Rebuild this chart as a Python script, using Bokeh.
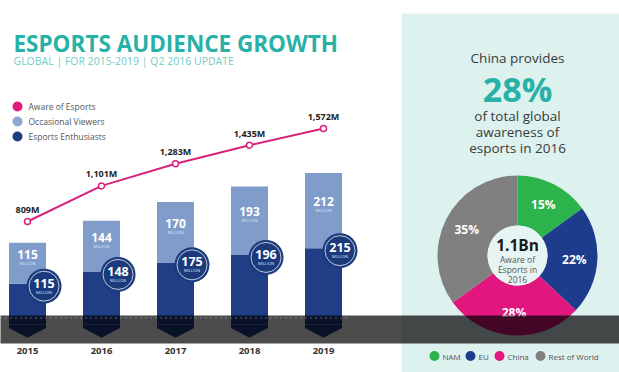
import math
from bokeh.plotting import figure
from bokeh.models import Range1d, Label, ColumnDataSource
from bokeh.core.properties import value
from bokeh.embed import file_html
from bokeh.resources import INLINE

# ---------------- data ----------------
years = [2015, 2016, 2017, 2018, 2019]
year_labels = ["2015", "2016", "2017", "2018", "2019"]
enthusiasts = [115, 148, 175, 196, 215]
occasional = [115, 144, 170, 193, 212]
aware = [809, 1101, 1283, 1435, 1572]
aware_labels = ["809M", "1,101M", "1,283M", "1,435M", "1,572M"]
legend_series = ["Aware of Esports", "Occasional Viewers", "Esports Enthusiasts"]
regions = ["NAM", "EU", "China", "Rest of World"]
region_share = [15, 22, 28, 35]

# ---------------- styles ----------------
FONT = "Open Sans"
NAVY = "#1f3e86"
NAVY_C = "#1b3a7c"
LIGHT = "#809cca"
PINK = "#d8237a"
PINK_DOT = "#e2197d"
TEAL = "#27b1a7"
TEAL_L = "#74ccc5"
PANEL = "#ddf1ef"
REGION_COLORS = ["#2db34b", "#1d3c8c", "#e2167f", "#808080"]

W, H = 619, 372
OX, OY = 0, 0


def Y(ry):
    return (OY + H) - ry


p = figure(width=W, height=H, x_range=Range1d(OX, OX + W), y_range=Range1d(0, H),
           output_backend="svg", toolbar_location=None, min_border=0,
           x_axis_location=None, y_axis_location=None)
p.grid.visible = False
p.outline_line_color = None
p.background_fill_color = "white"
p.border_fill_color = "white"

# scales for data
PX_YEAR = 74.0
yr_start = years[0] - (27 - OX) / PX_YEAR
p.extra_x_ranges["yr"] = Range1d(yr_start, yr_start + W / PX_YEAR)
BAR_PX = 0.355
bar_start = -((OY + H) - 324) / BAR_PX
p.extra_y_ranges["bar"] = Range1d(bar_start, bar_start + H / BAR_PX)
AW_PX = 0.1219
aw_start = -((OY + H) - 319.6) / AW_PX
p.extra_y_ranges["aw"] = Range1d(aw_start, aw_start + H / AW_PX)

# right panel background
p.quad(left=401, right=OX + W + 2, bottom=-2, top=Y(13), fill_color=PANEL, line_color=None)

# ---------------- titles ----------------
p.add_layout(Label(x=13, y=Y(42.5), text="ESPORTS AUDIENCE GROWTH", text_font=FONT,
                   text_font_style="bold", text_font_size="22.5px", text_color=TEAL,
                   text_baseline="middle"))
p.add_layout(Label(x=13, y=Y(60), text="GLOBAL | FOR 2015-2019 | Q2 2016 UPDATE", text_font=FONT,
                   text_font_size="10.5px", text_color=TEAL_L, text_baseline="middle"))

# left legend
leg_colors = [PINK_DOT, "#8ea8d2", "#1f3c7c"]
for i, (name, c) in enumerate(zip(legend_series, leg_colors)):
    yy = Y(106 + 15 * i)
    p.scatter(x=[17], y=[yy], size=10, fill_color=c, line_color=None)
    p.add_layout(Label(x=28, y=yy, text=name, text_font=FONT, text_font_size="8.5px",
                       text_color="#555555", text_baseline="middle"))

# ---------------- bars ----------------
totals = [e + o for e, o in zip(enthusiasts, occasional)]
src = ColumnDataSource(dict(x=years, e=enthusiasts, o=occasional, t=totals,
                            mid=[e + o / 2 for e, o in zip(enthusiasts, occasional)],
                            cx=[y + 0.223 for y in years],
                            cy=[e - 7 for e in enthusiasts],
                            es=[str(v) for v in enthusiasts],
                            os=[str(v) for v in occasional],
                            mil=["MILLION"] * len(years)))
p.vbar(x="x", bottom=0, top="e", width=0.5, source=src, fill_color=NAVY, line_color=None,
       x_range_name="yr", y_range_name="bar")
p.vbar(x="x", bottom="e", top="t", width=0.5, source=src, fill_color=LIGHT, line_color=None,
       x_range_name="yr", y_range_name="bar")
# chevron bottoms
p.patches(xs=[[y - 0.25, y + 0.25, y + 0.25, y, y - 0.25] for y in years],
          ys=[[0, 0, -10, -37, -10] for _ in years],
          fill_color=NAVY, line_color=None, x_range_name="yr", y_range_name="bar")

# occasional labels
p.text(x="x", y="mid", text="os", source=src, x_range_name="yr", y_range_name="bar",
       text_font=value(FONT), text_font_style="bold", text_font_size="12px",
       text_color="white", text_align="center", text_baseline="middle", y_offset=-9)
p.text(x="x", y="mid", text="mil", source=src, x_range_name="yr", y_range_name="bar",
       text_font=value(FONT), text_font_size="4px", text_color="#dfe6f2",
       text_align="center", text_baseline="middle", y_offset=0)

# enthusiast circles
p.scatter(x="cx", y="cy", source=src, size=35, fill_color=NAVY_C, line_color=None,
          x_range_name="yr", y_range_name="bar")
p.scatter(x="cx", y="cy", source=src, size=30, fill_color=None, line_color="white",
          line_width=0.8, line_alpha=0.9, x_range_name="yr", y_range_name="bar")
p.text(x="cx", y="cy", text="es", source=src, x_range_name="yr", y_range_name="bar",
       text_font=value(FONT), text_font_style="bold", text_font_size="12.5px",
       text_color="white", text_align="center", text_baseline="middle", y_offset=-3)
p.text(x="cx", y="cy", text="mil", source=src, x_range_name="yr", y_range_name="bar",
       text_font=value(FONT), text_font_size="4px", text_color="#dfe6f2",
       text_align="center", text_baseline="middle", y_offset=6)

# ---------------- aware line ----------------
lsrc = ColumnDataSource(dict(x=years, y=aware, lab=aware_labels))
p.line(x="x", y="y", source=lsrc, line_color=PINK, line_width=2,
       x_range_name="yr", y_range_name="aw")
p.scatter(x="x", y="y", source=lsrc, size=6, fill_color="white", line_color=PINK,
          line_width=1.5, x_range_name="yr", y_range_name="aw")
p.text(x="x", y="y", text="lab", source=lsrc, x_range_name="yr", y_range_name="aw",
       text_font=value(FONT), text_font_style="bold", text_font_size="9px",
       text_color="#222222", text_align="center", text_baseline="middle", y_offset=-12)

# year labels
p.text(x=years, y=[bar_start] * len(years), text=year_labels, x_range_name="yr",
       y_range_name="bar", text_font=value(FONT), text_font_style="bold",
       text_font_size="9.5px", text_color="#333333", text_align="center",
       text_baseline="middle", y_offset=-(OY + H - 350))

# ---------------- right panel text ----------------
PCX = 517
for txt, ry, size, style, col in [
    ("China provides", 57, "13.5px", "normal", "#3a3a3a"),
    ("28%", 88, "34px", "bold", TEAL),
    ("of total global", 115, "13.5px", "normal", "#3a3a3a"),
    ("awareness of", 131, "13.5px", "normal", "#3a3a3a"),
    ("esports in 2016", 147, "13.5px", "normal", "#3a3a3a"),
]:
    p.add_layout(Label(x=PCX, y=Y(ry), text=txt, text_font=FONT, text_font_size=size,
                       text_font_style=style, text_color=col, text_align="center",
                       text_baseline="middle"))

# donut
DCY = Y(255)
R_OUT, R_IN, R_LAB = 80, 30, 57
starts, ends, lx, ly, labs = [], [], [], [], []
cum = 0.0
total_share = sum(region_share)
for s in region_share:
    a0 = math.pi / 2 - 2 * math.pi * cum / total_share
    cum += s
    a1 = math.pi / 2 - 2 * math.pi * cum / total_share
    starts.append(a0)
    ends.append(a1)
    am = (a0 + a1) / 2
    lx.append(PCX + R_LAB * math.cos(am))
    ly.append(DCY + R_LAB * math.sin(am))
    labs.append(f"{s}%")
dsrc = ColumnDataSource(dict(x=[PCX] * 4, y=[DCY] * 4, s=starts, e=ends, c=REGION_COLORS))
p.annular_wedge(x="x", y="y", inner_radius=R_IN, outer_radius=R_OUT, start_angle="s",
                end_angle="e", direction="clock", fill_color="c", line_color=None, source=dsrc,
                inner_radius_units="screen", outer_radius_units="screen")
p.scatter(x=[PCX], y=[DCY], size=2 * R_IN, fill_color="#e6f5f3", line_color=None)
p.text(x=lx, y=ly, text=labs, text_font=value(FONT), text_font_style="bold",
       text_font_size="12px", text_color="white", text_align="center", text_baseline="middle")

p.add_layout(Label(x=PCX, y=Y(244), text="1.1Bn", text_font=FONT, text_font_style="bold",
                   text_font_size="15.5px", text_color="#1a1a1a", text_align="center",
                   text_baseline="middle"))
for txt, ry in [("Aware of", 259), ("Esports in", 269), ("2016", 279)]:
    p.add_layout(Label(x=PCX, y=Y(ry), text=txt, text_font=FONT, text_font_size="8.5px",
                       text_color="#555555", text_align="center", text_baseline="middle"))

# region legend
leg_x = [434, 470, 499, 540]
for name, c, xx in zip(regions, REGION_COLORS, leg_x):
    p.scatter(x=[xx], y=[Y(355.5)], size=10, fill_color=c, line_color=None)
    p.add_layout(Label(x=xx + 8, y=Y(355.5), text=name, text_font=FONT, text_font_size="8px",
                       text_color="#555555", text_baseline="middle"))

# ---------------- dark overlay band ----------------
p.quad(left=OX - 2, right=OX + W + 2, bottom=Y(343), top=Y(315), fill_color="black",
       fill_alpha=0.7, line_color=None)
p.segment(x0=[OX], y0=[Y(317.5)], x1=[350], y1=[Y(317.5)], line_color="#b8c2d6",
          line_alpha=0.6, line_width=1.5, line_dash="1 4")

open("out.html", "w").write(file_html(p, INLINE))
